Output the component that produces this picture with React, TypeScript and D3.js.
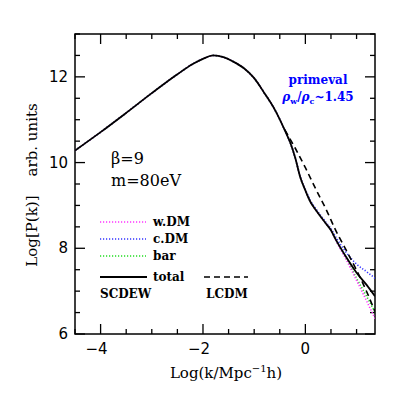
import React, { useEffect, useRef } from 'react';
import * as d3 from 'd3';

// log k grid (Mpc^-1 h)
const logK = [-4.5, -4.0, -3.5, -3.0, -2.5, -2.2, -2.0, -1.8, -1.6, -1.4, -1.2, -1.0, -0.8, -0.6, -0.4, -0.3, -0.2, -0.1, 0.0, 0.1, 0.2, 0.4, 0.5, 0.6, 0.8, 1.0, 1.2, 1.36];

// SCDEW components, log P(k)
const total = [10.28, 10.71, 11.16, 11.62, 12.06, 12.3, 12.42, 12.5, 12.46, 12.35, 12.2, 11.97, 11.62, 11.24, 10.75, 10.48, 10.12, 9.66, 9.35, 9.08, 8.9, 8.58, 8.42, 8.19, 7.79, 7.43, 7.14, 6.88];
const cDM = [10.28, 10.71, 11.16, 11.62, 12.06, 12.3, 12.42, 12.5, 12.46, 12.35, 12.2, 11.97, 11.62, 11.24, 10.75, 10.48, 10.12, 9.67, 9.37, 9.11, 8.93, 8.61, 8.46, 8.25, 7.9, 7.63, 7.45, 7.3];
const bar = [10.28, 10.71, 11.16, 11.62, 12.06, 12.3, 12.42, 12.5, 12.46, 12.35, 12.2, 11.97, 11.62, 11.24, 10.75, 10.48, 10.12, 9.66, 9.35, 9.08, 8.9, 8.58, 8.42, 8.18, 7.76, 7.3, 6.87, 6.51];
const wDM = [10.28, 10.71, 11.16, 11.62, 12.06, 12.3, 12.42, 12.5, 12.46, 12.35, 12.2, 11.97, 11.62, 11.24, 10.75, 10.48, 10.12, 9.66, 9.35, 9.08, 8.9, 8.58, 8.42, 8.17, 7.73, 7.25, 6.76, 6.36];

// LCDM comparison
const lcdmK = [-0.4, -0.2, 0.0, 0.2, 0.4, 0.6, 0.8, 1.0, 1.2, 1.36];
const lcdm = [10.76, 10.34, 9.88, 9.39, 8.92, 8.4, 7.95, 7.49, 6.98, 6.52];

const xTicks = [-4, -2, 0];
const yTicks = [6, 8, 10, 12];

const App = () => {
    const svgRef = useRef<SVGSVGElement>(null);

    useEffect(() => {
        const svg = d3.select(svgRef.current);
        svg.selectAll('*').remove();

        const left = 75, right = 375, top = 34, bottom = 334;
        const x = d3.scaleLinear().domain([-4.5, 1.36]).range([left, right]);
        const y = d3.scaleLinear().domain([6, 13]).range([bottom, top]);

        const g = svg.append('g');

        // clip for curves
        svg.append('defs').append('clipPath').attr('id', 'plotclip')
            .append('rect').attr('x', left).attr('y', top)
            .attr('width', right - left).attr('height', bottom - top);

        // frame
        g.append('rect')
            .attr('x', left).attr('y', top)
            .attr('width', right - left).attr('height', bottom - top)
            .attr('fill', 'none').attr('stroke', '#000').attr('stroke-width', 1.5);

        // ticks on all four sides
        const xMinor = d3.range(-4.5, 1.36, 0.5);
        xMinor.forEach(v => {
            const major = Math.abs(v % 2) < 1e-6;
            const len = major ? 10 : 5;
            g.append('line').attr('x1', x(v)).attr('x2', x(v)).attr('y1', bottom).attr('y2', bottom - len)
                .attr('stroke', '#000').attr('stroke-width', 1.3);
            g.append('line').attr('x1', x(v)).attr('x2', x(v)).attr('y1', top).attr('y2', top + len)
                .attr('stroke', '#000').attr('stroke-width', 1.3);
        });
        const yMinor = d3.range(6, 13.01, 0.5);
        yMinor.forEach(v => {
            const major = Math.abs(v % 2) < 1e-6;
            const len = major ? 10 : 5;
            g.append('line').attr('y1', y(v)).attr('y2', y(v)).attr('x1', left).attr('x2', left + len)
                .attr('stroke', '#000').attr('stroke-width', 1.3);
            g.append('line').attr('y1', y(v)).attr('y2', y(v)).attr('x1', right).attr('x2', right - len)
                .attr('stroke', '#000').attr('stroke-width', 1.3);
        });

        // tick labels
        xTicks.forEach(v => {
            g.append('text').attr('x', x(v) - (v < 0 ? 4 : 0)).attr('y', 354)
                .attr('text-anchor', 'middle').attr('font-family', 'DejaVu Sans').attr('font-size', 15)
                .text(v < 0 ? '\u2212' + Math.abs(v) : String(v));
        });
        yTicks.forEach(v => {
            g.append('text').attr('x', 68).attr('y', y(v) + 5)
                .attr('text-anchor', 'end').attr('font-family', 'DejaVu Sans').attr('font-size', 15)
                .text(String(v));
        });

        // axis titles
        const xt = g.append('text').attr('x', 226).attr('y', 378).attr('text-anchor', 'middle')
            .attr('font-family', 'DejaVu Serif').attr('font-size', 15);
        xt.append('tspan').text('Log(k/Mpc');
        xt.append('tspan').attr('dy', -6).attr('font-size', 10).text('\u22121');
        xt.append('tspan').attr('dy', 6).text('h)');

        g.append('text').attr('transform', 'translate(37,185) rotate(-90)').attr('text-anchor', 'middle')
            .attr('font-family', 'DejaVu Serif').attr('font-size', 15)
            .attr('xml:space', 'preserve')
            .text('Log[P(k)]    arb. units');

        // curves
        const line = d3.line<[number, number]>().x(d => x(d[0])).y(d => y(d[1])).curve(d3.curveMonotoneX);
        const curves = g.append('g').attr('clip-path', 'url(#plotclip)');
        const dotted = [
            { vals: cDM, color: '#3333ff' },
            { vals: bar, color: '#22dd22' },
            { vals: wDM, color: '#ff33ff' },
        ];
        dotted.forEach(s => {
            curves.append('path').attr('d', line(logK.map((k, i) => [k, s.vals[i]]))!)
                .attr('fill', 'none').attr('stroke', s.color).attr('stroke-width', 1.6)
                .attr('stroke-dasharray', '1.2,1.8');
        });
        curves.append('path').attr('d', line(lcdmK.map((k, i) => [k, lcdm[i]]))!)
            .attr('fill', 'none').attr('stroke', '#000').attr('stroke-width', 1.6)
            .attr('stroke-dasharray', '6,4');
        curves.append('path').attr('d', line(logK.map((k, i) => [k, total[i]]))!)
            .attr('fill', 'none').attr('stroke', '#000').attr('stroke-width', 1.8);

        // annotations
        const ann = (tx: number, ty: number, s: string, size: number, color = '#000', weight = 'normal') =>
            g.append('text').attr('x', tx).attr('y', ty).attr('font-family', 'DejaVu Serif')
                .attr('font-size', size).attr('fill', color).attr('font-weight', weight).text(s);

        ann(111, 164, '\u03b2=9', 16);
        ann(111, 186, 'm=80eV', 16);

        g.append('text').attr('x', 318).attr('y', 84).attr('text-anchor', 'middle')
            .attr('font-family', 'DejaVu Serif').attr('font-weight', 'bold').attr('font-size', 12)
            .attr('fill', '#0000ff').text('primeval');
        const rho = g.append('text').attr('x', 318).attr('y', 101).attr('text-anchor', 'middle')
            .attr('font-family', 'DejaVu Serif').attr('font-weight', 'bold').attr('font-size', 12)
            .attr('fill', '#0000ff');
        rho.append('tspan').attr('font-style', 'italic').text('\u03c1');
        rho.append('tspan').attr('dy', 3).attr('font-size', 8).text('w');
        rho.append('tspan').attr('dy', -3).text('/');
        rho.append('tspan').attr('font-style', 'italic').text('\u03c1');
        rho.append('tspan').attr('dy', 3).attr('font-size', 8).text('c');
        rho.append('tspan').attr('dy', -3).text('~1.45');

        // legend
        const legend = [
            { label: 'w.DM', color: '#ff33ff', yy: 222 },
            { label: 'c.DM', color: '#3333ff', yy: 239 },
            { label: 'bar', color: '#22dd22', yy: 256 },
        ];
        legend.forEach(l => {
            g.append('line').attr('x1', 100).attr('x2', 146).attr('y1', l.yy).attr('y2', l.yy)
                .attr('stroke', l.color).attr('stroke-width', 1.6).attr('stroke-dasharray', '1.2,1.8');
            ann(153, l.yy + 4, l.label, 12, '#000', 'bold');
        });
        g.append('line').attr('x1', 100).attr('x2', 147).attr('y1', 277).attr('y2', 277)
            .attr('stroke', '#000').attr('stroke-width', 1.8);
        ann(153, 281, 'total', 12, '#000', 'bold');
        g.append('line').attr('x1', 204).attr('x2', 248).attr('y1', 277).attr('y2', 277)
            .attr('stroke', '#000').attr('stroke-width', 1.6).attr('stroke-dasharray', '6,4');
        ann(100, 298, 'SCDEW', 12, '#000', 'bold');
        ann(206, 298, 'LCDM', 12, '#000', 'bold');
    }, []);

    return (
        <svg ref={svgRef} width={409} height={409}
            style={{ position: 'absolute', left: 0, top: 0, background: '#fff' }} />
    );
};

export default App;
